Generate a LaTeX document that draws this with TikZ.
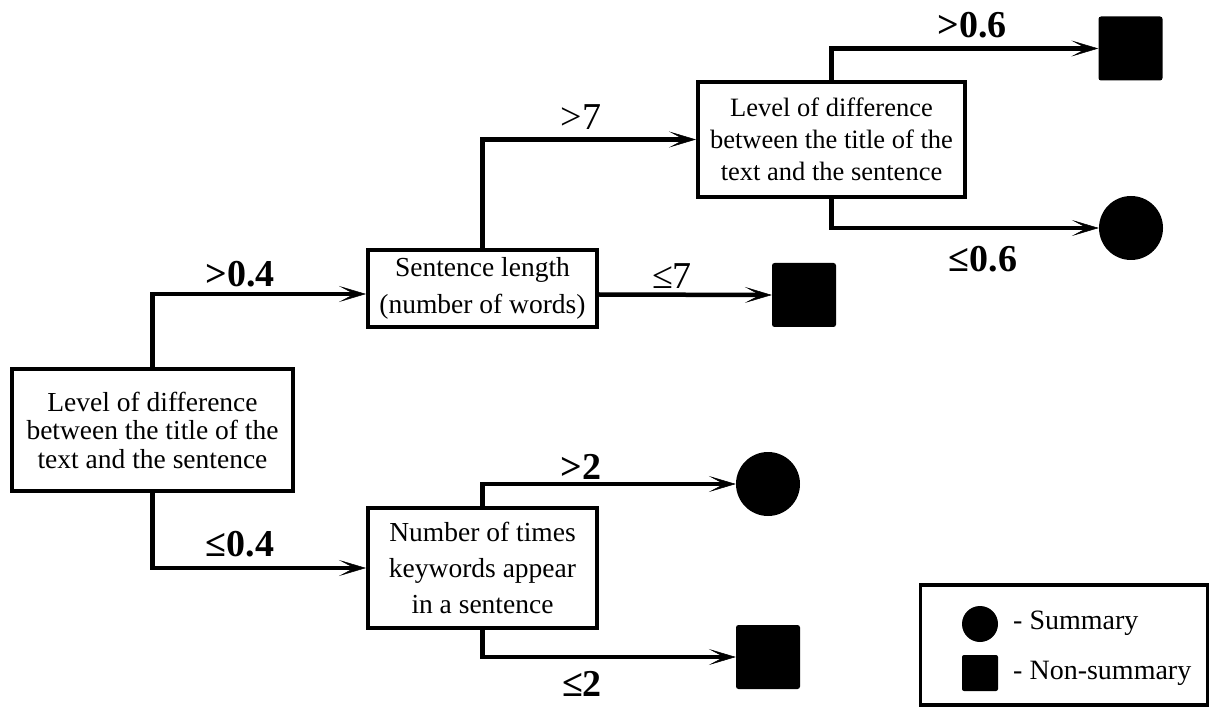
\documentclass[tikz,border=0pt]{standalone}
\usepackage{fontspec}
\setmainfont{Liberation Serif}
\usetikzlibrary{arrows.meta}

\tikzset{
  decision/.style={draw, line width=4pt, fill=white, align=center, inner sep=0pt},
  leafsq/.style={fill=black, rounded corners=2.5pt, minimum size=64pt, inner sep=0pt},
  leafci/.style={circle, fill=black, minimum size=64pt, inner sep=0pt},
  branchtip/.tip={Stealth[length=27pt, width=16pt, inset=15pt, line width=0.5pt]},
  branch/.style={line width=4.5pt, -branchtip},
  boldlab/.style={font=\fontsize{38}{40}\selectfont\bfseries, inner sep=0pt},
  thinlab/.style={font=\fontsize{38}{40}\selectfont, inner sep=0pt},
  keytext/.style={anchor=west, inner sep=0pt, font=\fontsize{28}{30}\selectfont}
}

\begin{document}
\begin{tikzpicture}[x=1pt, y=1pt]
\useasboundingbox (0,-708) rectangle (1212,0);

% decision nodes
\node[decision, minimum width=281pt, minimum height=122pt,
  font=\fontsize{27.5}{28.5}\selectfont] (root) at (152.5,-430)
  {Level of difference\\between the title of the\\text and the sentence};
\node[decision, minimum width=229pt, minimum height=77pt,
  font=\fontsize{27.5}{37}\selectfont] (len) at (482.5,-288.5)
  {Sentence length\\(number of words)};
\node[decision, minimum width=267pt, minimum height=115pt,
  font=\fontsize{26.5}{32}\selectfont] (diff) at (831.5,-139.5)
  {Level of difference\\between the title of the\\text and the sentence};
\node[decision, minimum width=229pt, minimum height=120pt,
  font=\fontsize{27.5}{36}\selectfont] (kw) at (482.5,-568)
  {Number of times\\keywords appear\\in a sentence};

% leaves
\node[leafsq] (sqA) at (1130.5,-48.5) {};
\node[leafci] (ciA) at (1131,-228) {};
\node[leafsq] (sqB) at (804,-295) {};
\node[leafci] (ciB) at (768,-484) {};
\node[leafsq] (sqC) at (768,-657) {};

% branches
\draw[branch] (root.north) |- ([yshift=-5.5pt]len.west);
\draw[branch] (root.south) |- (kw.west);
\draw[branch] (len.north) |- (diff.west);
\draw[branch] ([yshift=-6pt]len.east) -- (sqB.west);
\draw[branch] (diff.north) |- (sqA.west);
\draw[branch] (diff.south) |- (ciA.west);
\draw[branch] (kw.north) |- (ciB.west);
\draw[branch] (kw.south) |- (sqC.west);

% branch labels
\node[boldlab] (l1) at (240,-274) {>0.4};
\node[boldlab] (l2) at (240,-544) {≤0.4};
\node[thinlab] (l3) at (581,-117) {>7};
\node[thinlab] (l4) at (672,-276) {≤7};
\node[boldlab] (l5) at (972,-25) {>0.6};
\node[boldlab] (l6) at (983,-259) {≤0.6};
\node[boldlab] (l7) at (581,-467) {>2};
\node[boldlab] (l8) at (582,-684) {≤2};

% key
\node[draw, line width=3.5pt, minimum width=287pt, minimum height=120pt, inner sep=0pt]
  (key) at (1064,-645) {};
\node[circle, fill=black, minimum size=36pt, inner sep=0pt] (kci) at (980,-624) {};
\node[fill=black, rounded corners=2pt, minimum size=36pt, inner sep=0pt] (ksq) at (980,-673) {};
\node[keytext] (kt1) at (1013,-623) {- Summary};
\node[keytext] (kt2) at (1013,-673) {- Non-summary};
\end{tikzpicture}
\end{document}
